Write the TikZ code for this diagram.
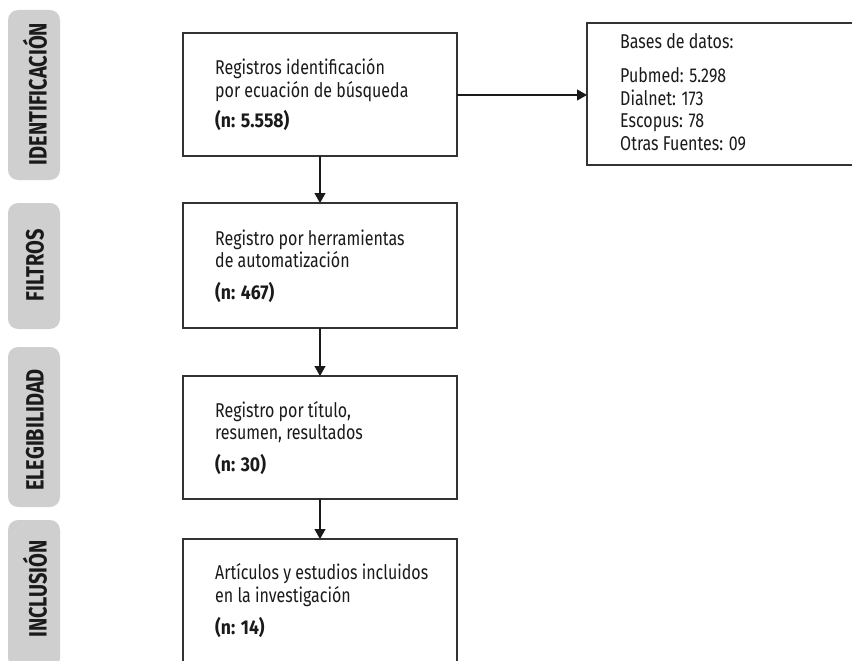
\documentclass[tikz,border=0pt]{standalone}
\usepackage{fontspec}
\setmainfont[FakeStretch=0.8]{Fira Sans}
\newfontfamily\nbold[FakeStretch=0.88]{Fira Sans}
\newfontfamily\tabfont[FakeStretch=0.8]{Fira Sans}
\usetikzlibrary{arrows.meta}
\definecolor{tabgray}{HTML}{CFCFCF}
\definecolor{ink}{HTML}{1A1A1A}
\definecolor{edge}{HTML}{333333}
\tikzset{
  tab/.style={fill=tabgray, draw=none, rounded corners=10pt},
  tabtxt/.style={rotate=90, font=\tabfont\fontsize{25}{28}\selectfont\bfseries, text=ink, inner sep=0pt},
  box/.style={draw=edge, line width=1.3pt, fill=white},
  ln/.style={anchor=base west, inner sep=0pt, text=ink, font=\fontsize{20}{22}\selectfont},
  lnb/.style={ln, font=\nbold\fontsize{20}{22}\selectfont\bfseries},
  arr/.style={draw=ink, line width=1.2pt, -{Triangle[length=10pt,width=11pt]}},
}
\begin{document}
\begin{tikzpicture}[x=1pt,y=-1pt]
\useasboundingbox (0,0) rectangle (852,661);
\clip (0,0) rectangle (852,661);
% side tabs
\path[tab] (8,10) rectangle (60,180);
\path[tab] (8,203) rectangle (60,329);
\path[tab] (8,347) rectangle (60,507);
\path[tab] (8,520) rectangle (60,668);
\node[tabtxt] (tab1) at (35,94) {IDENTIFICACIÓN};
\node[tabtxt] (tab2) at (35,265) {FILTROS};
\node[tabtxt] (tab3) at (35,430) {ELEGIBILIDAD};
\node[tabtxt] (tab4) at (35,589) {INCLUSIÓN};
% boxes
\draw[box] (183,33) rectangle (457,156);
\draw[box] (183,203) rectangle (457,328);
\draw[box] (183,376) rectangle (457,499);
\draw[box] (183,539) rectangle (457,680);
\draw[box] (587,23) rectangle (870,165);
\coordinate (b1n) at (320,33);  \coordinate (b1s) at (320,156); \coordinate (b1e) at (457,95);
\coordinate (b2n) at (320,203); \coordinate (b2s) at (320,328);
\coordinate (b3n) at (320,376); \coordinate (b3s) at (320,499);
\coordinate (b4n) at (320,539);
\coordinate (dbw) at (587,95);
% texts
\node[ln]  (t11) at (215,75)  {Registros identificación};
\node[ln]  (t12) at (215,97)  {por ecuación de búsqueda};
\node[lnb] (t13) at (215,128) {(n: 5.558)};
\node[ln]  (t21) at (215,245) {Registro por herramientas};
\node[ln]  (t22) at (215,267) {de automatización};
\node[lnb] (t23) at (215,299) {(n: 467)};
\node[ln]  (t31) at (215,417) {Registro por título,};
\node[ln]  (t32) at (215,439) {resumen, resultados};
\node[lnb] (t33) at (215,471) {(n: 30)};
\node[ln]  (t41) at (215,579) {Artículos y estudios incluidos};
\node[ln]  (t42) at (215,602) {en la investigación};
\node[lnb] (t43) at (215,634) {(n: 14)};
\node[ln]  (d0) at (620,49)  {Bases de datos:};
\node[ln]  (d1) at (620,83)  {Pubmed: 5.298};
\node[ln]  (d2) at (620,105.5) {Dialnet: 173};
\node[ln]  (d3) at (620,128) {Escopus: 78};
\node[ln]  (d4) at (620,150.5) {Otras Fuentes: 09};
% connectors
\draw[arr] (b1s) -- (b2n);
\draw[arr] (b2s) -- (b3n);
\draw[arr] (b3s) -- (b4n);
\draw[arr] (b1e) -- (dbw);
\end{tikzpicture}
\end{document}
